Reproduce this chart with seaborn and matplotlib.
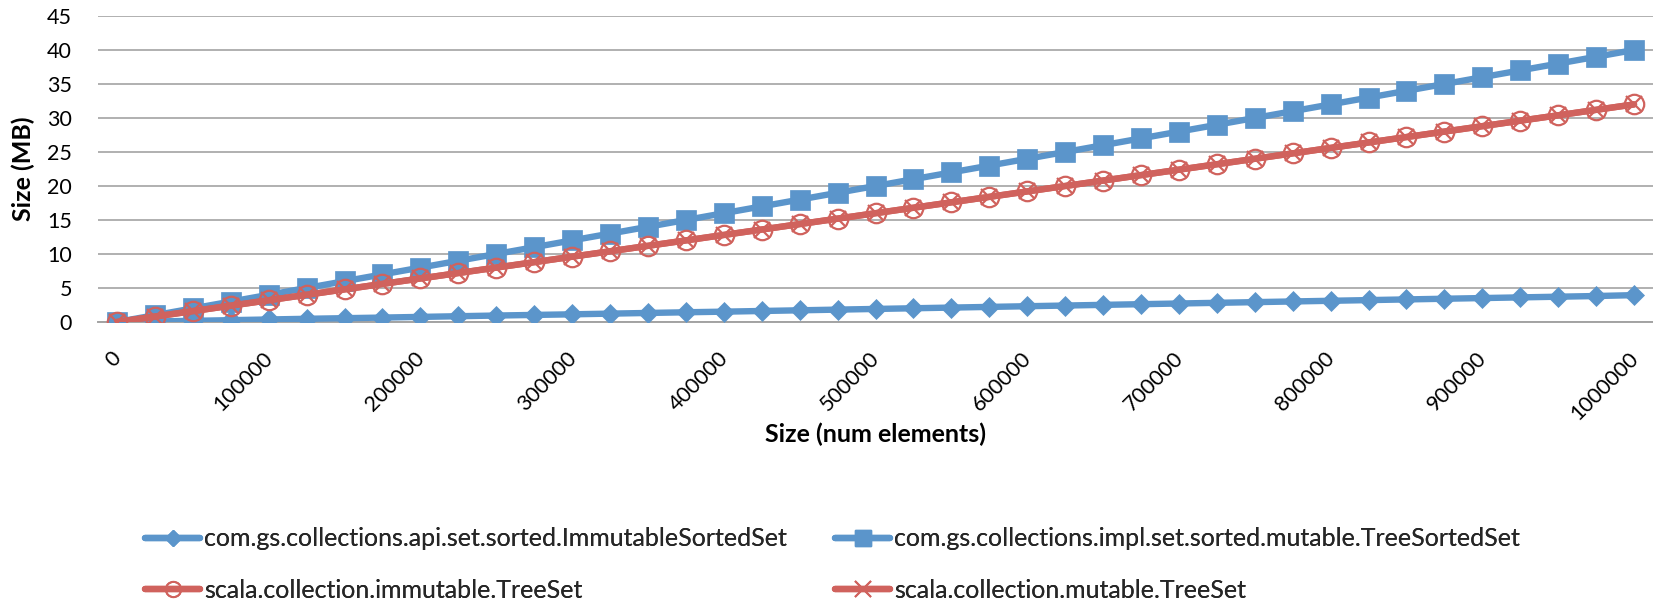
import matplotlib
matplotlib.use("Agg")
import matplotlib.pyplot as plt
import matplotlib.transforms as mtransforms
from matplotlib.lines import Line2D
import seaborn as sns

# ---------------- data ----------------
sizes = [0, 25000, 50000, 75000, 100000, 125000, 150000, 175000, 200000, 225000,
         250000, 275000, 300000, 325000, 350000, 375000, 400000, 425000, 450000, 475000,
         500000, 525000, 550000, 575000, 600000, 625000, 650000, 675000, 700000, 725000,
         750000, 775000, 800000, 825000, 850000, 875000, 900000, 925000, 950000, 975000,
         1000000]

gs_immutable_sorted = [0.00, 0.08, 0.17, 0.27, 0.37, 0.47, 0.56, 0.65, 0.75, 0.85,
                       0.95, 1.04, 1.13, 1.23, 1.33, 1.43, 1.52, 1.62, 1.72, 1.82,
                       1.92, 2.02, 2.12, 2.22, 2.32, 2.42, 2.52, 2.62, 2.72, 2.82,
                       2.92, 3.02, 3.12, 3.22, 3.32, 3.42, 3.52, 3.62, 3.72, 3.82,
                       3.95]

gs_tree_sorted = [0, 1, 2, 3, 4, 5, 6, 7, 8, 9,
                  10, 11, 12, 13, 14, 15, 16, 17, 18, 19,
                  20, 21, 22, 23, 24, 25, 26, 27, 28, 29,
                  30, 31, 32, 33, 34, 35, 36, 37, 38, 39,
                  40]

scala_immutable_tree = [0.0, 0.8, 1.6, 2.4, 3.2, 4.0, 4.8, 5.6, 6.4, 7.2,
                        8.0, 8.8, 9.6, 10.4, 11.2, 12.0, 12.8, 13.6, 14.4, 15.2,
                        16.0, 16.8, 17.6, 18.4, 19.2, 20.0, 20.8, 21.6, 22.4, 23.2,
                        24.0, 24.8, 25.6, 26.4, 27.2, 28.0, 28.8, 29.6, 30.4, 31.2,
                        32.0]

scala_mutable_tree = [0.0, 0.8, 1.6, 2.4, 3.2, 4.0, 4.8, 5.6, 6.4, 7.2,
                      8.0, 8.8, 9.6, 10.4, 11.2, 12.0, 12.8, 13.6, 14.4, 15.2,
                      16.0, 16.8, 17.6, 18.4, 19.2, 20.0, 20.8, 21.6, 22.4, 23.2,
                      24.0, 24.8, 25.6, 26.4, 27.2, 28.0, 28.8, 29.6, 30.4, 31.2,
                      32.0]

series_names = ["com.gs.collections.api.set.sorted.ImmutableSortedSet",
                "com.gs.collections.impl.set.sorted.mutable.TreeSortedSet",
                "scala.collection.immutable.TreeSet",
                "scala.collection.mutable.TreeSet"]

y_ticks = [0, 5, 10, 15, 20, 25, 30, 35, 40, 45]
label_every = 4
x_title = "Size (num elements)"
y_title = "Size (MB)"

# ---------------- style ----------------
BLUE = "#5B95CB"
RED = "#D0625D"
GRID = "#A3A3A3"
FONT = ["Lato", "DejaVu Sans"]

sns.set_theme(style="white")
plt.rcParams["font.family"] = FONT

W, H = 1653, 601
fig = plt.figure(figsize=(W / 100, H / 100), dpi=100)
left_px, right_px, top_px, bottom_px = 98, 1653, 16, 322
ax = fig.add_axes([left_px / W, 1 - bottom_px / H,
                   (right_px - left_px) / W, (bottom_px - top_px) / H])

idx = list(range(len(sizes)))
lw = 4.6

sns.lineplot(x=idx, y=gs_immutable_sorted, ax=ax, color=BLUE, linewidth=lw,
             marker="D", markersize=10.5, markerfacecolor=BLUE,
             markeredgecolor=BLUE, markeredgewidth=0.5, zorder=3)
sns.lineplot(x=idx, y=gs_tree_sorted, ax=ax, color=BLUE, linewidth=lw,
             marker="s", markersize=14.5, markerfacecolor=BLUE,
             markeredgecolor=BLUE, markeredgewidth=0.5, zorder=3)
sns.lineplot(x=idx, y=scala_immutable_tree, ax=ax, color=RED, linewidth=lw,
             marker="o", markersize=14, markerfacecolor="none",
             markeredgecolor=RED, markeredgewidth=1.6, zorder=4)
sns.lineplot(x=idx, y=scala_mutable_tree, ax=ax, color=RED, linewidth=lw,
             marker="x", markersize=12, markeredgecolor=RED,
             markeredgewidth=1.6, zorder=4)

# axes limits / grid
ax.set_xlim(-0.5, len(sizes) - 0.5)
ax.set_ylim(0, 45)
ax.set_yticks(y_ticks)
ax.set_yticklabels([str(v) for v in y_ticks])
ax.yaxis.grid(True, color=GRID, linewidth=1.2)
ax.xaxis.grid(False)
for s in ["left", "right", "top"]:
    ax.spines[s].set_visible(False)
ax.spines["bottom"].set_color(GRID)
ax.spines["bottom"].set_linewidth(1.4)
ax.spines["bottom"].set_zorder(2)
ax.set_axisbelow(True)

ax.tick_params(axis="y", length=0, pad=18.7, labelsize=15.5, labelcolor="black")

# x ticks: labels on every 4th category, tick marks at category boundaries
major = list(range(0, len(sizes), label_every))
ax.set_xticks(major)
ax.set_xticklabels([str(sizes[i]) for i in major], rotation=45, ha="right",
                   va="top", rotation_mode="anchor")
ax.set_xticks([i - 0.5 for i in range(len(sizes) + 1)], minor=True)
ax.tick_params(axis="x", which="major", length=0, pad=19, labelsize=15.5,
               labelcolor="black")
ax.tick_params(axis="x", which="minor", direction="inout", length=12,
               width=1.4, color=GRID)
offset = mtransforms.ScaledTranslation(-6 / 100, 0, fig.dpi_scale_trans)
for lab in ax.get_xticklabels():
    lab.set_transform(lab.get_transform() + offset)

ax.set_xlabel(x_title, fontsize=18, fontweight="bold", color="black")
ax.set_ylabel(y_title, fontsize=18, fontweight="bold", color="black")
ax.xaxis.label.set_va("center")
ax.yaxis.label.set_va("center")
ax.xaxis.set_label_coords(0.5, -(434 - bottom_px) / (bottom_px - top_px))
ax.yaxis.set_label_coords(-(left_px - 23) / (right_px - left_px), 0.5)

# legend (four entries, 2 x 2 grid)
handles = [
    Line2D([], [], color=BLUE, linewidth=lw, marker="D", markersize=7.8,
           markerfacecolor=BLUE, markeredgecolor=BLUE),
    Line2D([], [], color=BLUE, linewidth=lw, marker="s", markersize=11.5,
           markerfacecolor=BLUE, markeredgecolor=BLUE),
    Line2D([], [], color=RED, linewidth=lw, marker="o", markersize=11,
           markerfacecolor="none", markeredgecolor=RED, markeredgewidth=1.4),
    Line2D([], [], color=RED, linewidth=lw, marker="x", markersize=11,
           markeredgecolor=RED, markeredgewidth=1.4),
]
positions = [(145, 539), (835, 539), (145, 590), (835, 590)]
for h, name, (px, py) in zip(handles, series_names, positions):
    leg = fig.legend(handles=[h], labels=[name], loc="center left",
                     bbox_to_anchor=(px / W, 1 - py / H), frameon=False,
                     borderpad=0, borderaxespad=0, handlelength=2.2,
                     handletextpad=0.16, prop={"size": 18})
    fig.add_artist(leg)

fig.savefig("out.png", dpi=100)
